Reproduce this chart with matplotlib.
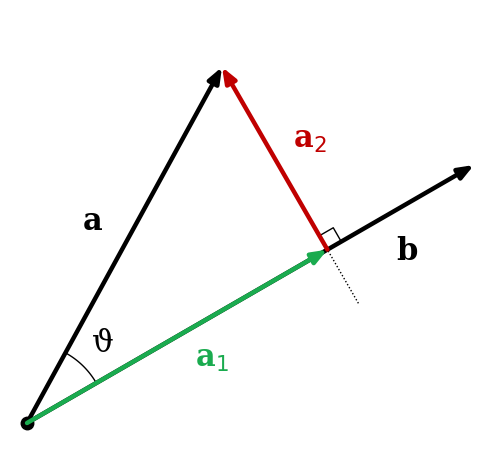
import numpy as np
import matplotlib
matplotlib.use("Agg")
import matplotlib.pyplot as plt

origin = np.array([27.0, 423.0])
vec_a = np.array([195.0, -356.0])
vec_b = np.array([447.0, -258.0])
labels = ["a", "b", "a$_1$", "a$_2$", "ϑ"]

t = vec_a @ vec_b / (vec_b @ vec_b)
a1 = t * vec_b
a2 = vec_a - a1

fig = plt.figure(figsize=(5, 4.5), dpi=100)
ax = fig.add_axes([0, 0, 1, 1])
ax.set_xlim(0, 500); ax.set_ylim(450, 0); ax.axis("off")

def arrow(start, vec, color, lw=3.2):
    ax.annotate("", xy=start + vec, xytext=start,
                arrowprops=dict(arrowstyle="-|>,head_length=0.9,head_width=0.35",
                                color=color, lw=lw, shrinkA=0, shrinkB=0))

# dotted perpendicular line
p = origin + a1
u = a2 / np.linalg.norm(a2)
ax.plot([p[0] - 62 * u[0], p[0] + 205 * u[0]], [p[1] - 62 * u[1], p[1] + 205 * u[1]],
        color="black", lw=1, ls=(0, (1, 1.5)))

arrow(origin, vec_b, "black")
arrow(origin, vec_a, "black")
arrow(origin, a1, "#1aab4f")
arrow(p, a2, "#c00000")

# right-angle marker
bu = vec_b / np.linalg.norm(vec_b)
s = 16
c1 = p + s * bu; c2 = c1 + s * u; c3 = p + s * u
ax.plot([c1[0], c2[0], c3[0]], [c1[1], c2[1], c3[1]], color="black", lw=1)

# angle arc
r = 80
ang_b = np.degrees(np.arctan2(-vec_b[1], vec_b[0]))
ang_a = np.degrees(np.arctan2(-vec_a[1], vec_a[0]))
th = np.radians(np.linspace(ang_b, ang_a, 50))
ax.plot(origin[0] + r * np.cos(th), origin[1] - r * np.sin(th), color="black", lw=1)

ax.plot(*origin, "o", color="black", ms=9)

fp = dict(family="DejaVu Serif", fontweight="bold", fontsize=22)
ax.text(93, 222, labels[0], ha="center", va="center", **fp)
ax.text(407, 252, labels[1], ha="center", va="center", **fp)
ax.text(212, 358, labels[2], ha="center", va="center", color="#1aab4f", **fp)
ax.text(310, 140, labels[3], ha="center", va="center", color="#c00000", **fp)
ax.text(103, 343, labels[4], ha="center", va="center", family="DejaVu Serif", fontsize=22)

fig.savefig("out.png", dpi=100)
